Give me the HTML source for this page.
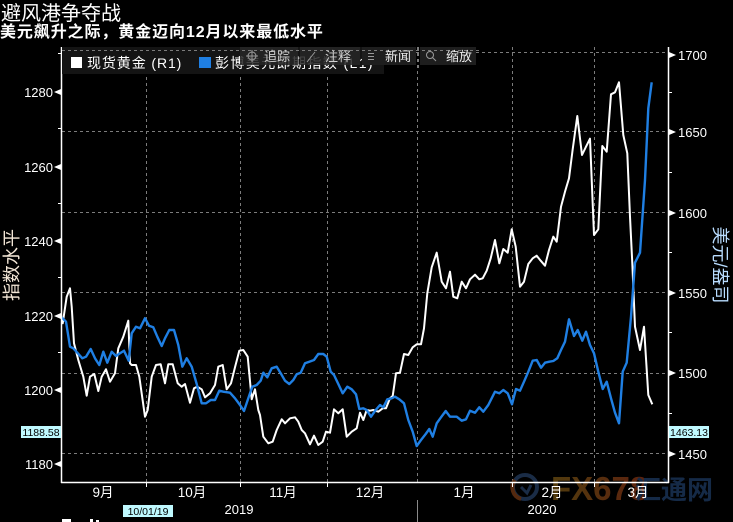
<!DOCTYPE html>
<html><head><meta charset="utf-8">
<style>
html,body{margin:0;padding:0;background:#000;}
svg{display:block;}
text{font-family:"Liberation Sans","Noto Sans CJK SC",sans-serif;}
.cjk{font-family:"Liberation Sans","Noto Sans CJK SC",sans-serif;}
</style></head>
<body>
<svg width="733" height="522" viewBox="0 0 733 522" xmlns="http://www.w3.org/2000/svg">
<rect width="733" height="522" fill="#000"/>

<!-- Title -->
<text x="1" y="20" fill="#fff" font-size="20" class="cjk">避风港争夺战</text>
<text x="0" y="37" fill="#fff" font-size="16" font-weight="bold" letter-spacing="0.9" class="cjk">美元飙升之际，黄金迈向12月以来最低水平</text>

<!-- horizontal gridlines -->
<g stroke="#7c7c7c" stroke-width="1" stroke-dasharray="3,3">
<line x1="62" y1="52.5" x2="667" y2="52.5"/>
<line x1="62" y1="131.5" x2="667" y2="131.5"/>
<line x1="62" y1="212.5" x2="667" y2="212.5"/>
<line x1="62" y1="292.5" x2="667" y2="292.5"/>
<line x1="62" y1="373.5" x2="667" y2="373.5"/>
<line x1="62" y1="453.5" x2="667" y2="453.5"/>
<!-- vertical gridlines -->
<line x1="146.5" y1="47" x2="146.5" y2="482"/>
<line x1="240.5" y1="47" x2="240.5" y2="482"/>
<line x1="327.5" y1="47" x2="327.5" y2="482"/>
<line x1="417.5" y1="47" x2="417.5" y2="482"/>
<line x1="512.5" y1="47" x2="512.5" y2="482"/>
<line x1="594.5" y1="47" x2="594.5" y2="482"/>
</g>

<!-- Watermark -->
<g opacity="0.95">
<circle cx="525" cy="487" r="12" fill="none" stroke="#1c2f4a" stroke-width="4"/>
<path d="M515 480 A12 12 0 0 0 521 499" fill="none" stroke="#5a2c10" stroke-width="4"/>
<path d="M521 487 L527 493 L531 485" fill="none" stroke="#1c2f4a" stroke-width="3"/>
<defs><linearGradient id="wg" x1="0" x2="1" y1="0" y2="0"><stop offset="0" stop-color="#56400f"/><stop offset="1" stop-color="#62230f"/></linearGradient></defs>
<text x="551" y="500" font-size="33" font-weight="bold" fill="url(#wg)">FX678</text>
<text x="635" y="499" font-size="26" font-weight="bold" fill="#172d4b" class="cjk">汇通网</text>
</g>

<!-- Series -->
<polyline fill="none" stroke="#ffffff" stroke-width="2" stroke-linejoin="round" points="62,318 62.7,323.3 66.7,296.7 70,288.3 71.7,306.7 74,343.3 78.3,360 83.3,376.7 86.7,395.7 90,376.7 94.3,374 98.3,391 101.7,376.7 106,369.3 110,381.7 115,373.3 118.3,348.3 123.3,336.7 128.3,320.7 130,363.3 131.7,365 136,365 139.3,376.7 145,416.7 147.7,410 151.7,376.7 156,365 160.7,364.3 165,383.3 168.3,364.3 172.7,364.3 177.7,383.3 181.7,386.7 185,384 190,402.7 194,388.3 197.3,386.7 201.7,389.3 205,397.3 210,393.3 215,385 218.3,366.7 222.7,365 226.7,389.3 231,383.3 235,367.3 239.3,350.7 243.3,350 247.7,356.7 251.7,399.3 255,389.3 258.3,410 260,415 263.3,436.7 268.3,443.3 272.7,441.7 276.7,430 281.7,419.3 285,423.3 290,418.3 295,417.3 298.3,421.7 301.7,430 305,433.3 310,444.3 314,435.7 318.3,445 322.7,441.7 326,431.7 330,432.7 334,409.3 338.3,413.3 342.7,409.3 346.7,436.7 351.7,431.7 356.7,428.3 360,412.7 363.3,420 366.7,410 370,410.7 373.3,410 378.3,411.7 382.7,408.3 386,408.3 390,398.3 392.7,396 396,373.3 400,372.7 404,354 408.3,355 412.7,347.3 416.7,344.3 421,344.3 424,328.3 427.3,293.3 431.7,267.3 436.7,252.7 441.7,281.7 446,288.3 450,271.7 453.3,296.7 457.3,298.3 461.7,281.7 466,288.3 470,279.3 475,274.7 479.3,279.3 482.7,278.3 486.7,270.7 490.7,258.3 495,240 499.3,263.3 503.3,249 507.7,252.7 511.7,229.3 515.7,246.7 520,286.7 524,281.7 528.3,264 532.7,258.3 536.7,255.7 540.7,260.7 545,265.7 549,250 553.3,236.7 556.7,241.7 561,206.7 565,191.7 569,178.3 572.7,149.3 577.3,116 582,155 586,146.7 590,138.7 594,235 598.3,229.3 602.3,146 606.7,151.7 611,94.3 615,92.3 619,82.3 623.3,135 627.3,153.3 630,216.7 632.3,263.3 635,326.7 640,350 644,326.7 648.3,395 652.3,404.3"/>
<polyline fill="none" stroke="#1f7fe3" stroke-width="2.4" stroke-linejoin="round" points="61.7,317.3 66,321.7 70,346.7 73.3,348.3 77.3,352.7 82.3,358.3 86,356.7 90.7,349 95,358.3 99.3,365 103.3,351.7 107.3,362.7 111.7,351.7 116,356 120,353.3 124,350.7 128.7,360.7 131.7,333.3 136,326.7 140,328.3 145,318.3 149,325.7 153.3,327.3 157.3,336.7 161.7,346 165,338.3 169.3,330 174,330 178.3,345 182.3,366.7 186.7,358.3 191.7,366.7 196.7,384 201.7,403.3 206,403.3 210.7,400 215,400 219.3,390.7 223.3,391.7 230,392.7 235,398.3 240,405 244,411 248.3,398.3 252.3,386.7 256.7,385 260.7,380.7 263.3,372.7 267.3,377.3 271.7,368.3 276.7,366.7 280.7,373.3 285,380.7 289.3,384 293.3,380 296.7,374.3 300.7,372.7 305,363.3 309.3,361.7 314,360 318.3,354 323.3,354 326.7,356.7 330.7,371.7 334,375 338.3,384 342.7,393.3 347.3,386.7 351.7,389.3 356,394.3 359.3,409 363.3,408.3 366.7,410 371,416.7 375.7,410 380,405 383.3,407.3 387.3,399.3 391.7,398.3 395,396.7 399.3,399.3 404,403.3 408.3,420 412.7,431.7 416.7,446 421,440 425.7,434 429.3,429 432.7,436.7 436.7,423.3 441,417.3 445.7,411 450,416.7 456.7,416.7 461.7,420.7 466,419.3 470,410.7 475,412.7 479.3,407.3 483.3,411.7 488.3,405 495,391.7 499.3,393.3 503.3,390 507.7,393.3 512,404.3 516,389 520,390.7 524,381.7 528.3,371.7 532.7,360.7 536.7,360 541,367.7 545,362.7 549.3,361.7 553.3,361 557.3,358.3 561,350 565,341.7 569,319.3 574,336 577.7,330 582.3,340.7 586,331.7 590,345 594,353.3 598.3,371.7 602.7,389 606.7,381.7 611,398.3 615,412.7 619,423.3 622.7,371.7 626.7,362.7 631,316.7 635,262.7 640,252.7 645,180 648.3,108.3 651.7,82.3"/>

<!-- Axes -->
<g stroke="#fff" stroke-width="1.5">
<line x1="61.5" y1="47" x2="61.5" y2="483"/>
<line x1="668.5" y1="47" x2="668.5" y2="483"/>
<line x1="61" y1="482.5" x2="669" y2="482.5"/>
</g>
<g stroke="#fff" stroke-width="1">
<line x1="58" y1="53.5" x2="61" y2="53.5"/>
<line x1="58" y1="128.5" x2="61" y2="128.5"/>
<line x1="58" y1="203.5" x2="61" y2="203.5"/>
<line x1="58" y1="277.5" x2="61" y2="277.5"/>
<line x1="58" y1="352.5" x2="61" y2="352.5"/>
<line x1="669" y1="92.5" x2="672" y2="92.5"/>
<line x1="669" y1="172.5" x2="672" y2="172.5"/>
<line x1="669" y1="252.5" x2="672" y2="252.5"/>
<line x1="669" y1="332.5" x2="672" y2="332.5"/>
<line x1="669" y1="413.5" x2="672" y2="413.5"/>
<line x1="146.5" y1="483" x2="146.5" y2="487"/>
<line x1="240.5" y1="483" x2="240.5" y2="487"/>
<line x1="327.5" y1="483" x2="327.5" y2="487"/>
<line x1="512.5" y1="483" x2="512.5" y2="487"/>
<line x1="594.5" y1="483" x2="594.5" y2="487"/>
</g>
<line x1="417.5" y1="500" x2="417.5" y2="522" stroke="#8a8a8a" stroke-width="1"/>

<g fill="#fff">
<polygon points="54,92 61,89 61,95"/>
<polygon points="54,167 61,164 61,170"/>
<polygon points="54,241 61,238 61,244"/>
<polygon points="54,316 61,313 61,319"/>
<polygon points="54,390 61,387 61,393"/>
<polygon points="54,464 61,461 61,467"/>
<polygon points="676,55 669,52 669,58"/>
<polygon points="676,132 669,129 669,135"/>
<polygon points="676,213 669,210 669,216"/>
<polygon points="676,293 669,290 669,296"/>
<polygon points="676,373 669,370 669,376"/>
<polygon points="676,454 669,451 669,457"/>
</g>

<g fill="#fff" font-size="13" text-anchor="end">
<text x="53" y="97">1280</text>
<text x="53" y="172">1260</text>
<text x="53" y="246">1240</text>
<text x="53" y="321">1220</text>
<text x="53" y="395">1200</text>
<text x="53" y="469">1180</text>
</g>
<g fill="#fff" font-size="13">
<text x="678" y="60">1700</text>
<text x="678" y="137">1650</text>
<text x="678" y="218">1600</text>
<text x="678" y="298">1550</text>
<text x="678" y="378">1500</text>
<text x="678" y="459">1450</text>
</g>

<rect x="21" y="426" width="40" height="12" fill="#bff9ff"/>
<text x="41" y="436" font-size="10.5" fill="#000" text-anchor="middle">1188.58</text>
<rect x="669" y="426" width="40" height="12" fill="#bff9ff"/>
<text x="689" y="436" font-size="10.5" fill="#000" text-anchor="middle">1463.13</text>

<text transform="translate(18,265) rotate(-90)" fill="#f3e6d6" font-size="18" text-anchor="middle" class="cjk">指数水平</text>
<text transform="translate(714,265) rotate(90)" fill="#b8dcff" font-size="18" text-anchor="middle" class="cjk">美元/盎司</text>

<g fill="#fff" font-size="13.5" text-anchor="middle" class="cjk">
<text x="103" y="497">9月</text>
<text x="192" y="497">10月</text>
<text x="283" y="497">11月</text>
<text x="370" y="497">12月</text>
<text x="464" y="497">1月</text>
<text x="552" y="497">2月</text>
<text x="638" y="497">3月</text>
</g>
<g fill="#fff" font-size="13" text-anchor="middle">
<text x="239" y="514">2019</text>
<text x="542" y="514">2020</text>
</g>
<rect x="123" y="505" width="50" height="12" fill="#bff9ff"/>
<text x="148" y="515" font-size="10.5" fill="#000" text-anchor="middle">10/01/19</text>

<rect x="62" y="519" width="9" height="3" fill="#fff"/>
<rect x="90" y="519" width="3" height="3" fill="#fff"/>
<rect x="96" y="520" width="3" height="2" fill="#fff"/>

<!-- Legend -->
<rect x="62" y="47" width="322" height="27" fill="#141414"/>
<rect x="71" y="57" width="11" height="11" fill="#fff"/>
<text x="87" y="68" fill="#fff" font-size="14" letter-spacing="0.9" class="cjk">现货黄金 (R1)</text>
<rect x="199" y="57" width="12" height="11" fill="#1f7fe3"/>
<text x="215" y="68" fill="#fff" font-size="14" letter-spacing="1.4" class="cjk">彭博美元即期指数 (L1)</text>

<!-- Toolbar -->
<g>
<rect x="240" y="47" width="58" height="18" fill="#262626" opacity="0.85"/>
<rect x="300" y="47" width="60" height="18" fill="#262626" opacity="0.85"/>
<rect x="362" y="47" width="54" height="18" fill="#1e1e1e"/>
<rect x="420" y="47" width="56" height="18" fill="#1e1e1e"/>
<line x1="418.5" y1="47" x2="418.5" y2="70" stroke="#7c7c7c" stroke-dasharray="3,3"/>
<line x1="62" y1="50.5" x2="480" y2="50.5" stroke="#7c7c7c" stroke-dasharray="3,3"/>
<g fill="#d0d0d0" font-size="13" class="cjk">
<text x="264" y="61">追踪</text>
<text x="325" y="61">注释</text>
<text x="385" y="61" fill="#ececec">新闻</text>
<text x="446" y="61" fill="#ececec">缩放</text>
</g>
<g stroke="#9a9a9a" fill="none" stroke-width="1">
<circle cx="252" cy="56" r="4"/>
<line x1="246" y1="56" x2="258" y2="56"/>
<line x1="252" y1="50" x2="252" y2="62"/>
<line x1="307" y1="62" x2="315" y2="52"/>
<line x1="368" y1="53.5" x2="374" y2="53.5"/>
<line x1="368" y1="56.5" x2="374" y2="56.5"/>
<line x1="368" y1="59.5" x2="374" y2="59.5"/>
<circle cx="430" cy="55" r="3.5"/>
<line x1="432.5" y1="57.5" x2="436" y2="61"/>
</g>
</g>
</svg>
</body></html>
